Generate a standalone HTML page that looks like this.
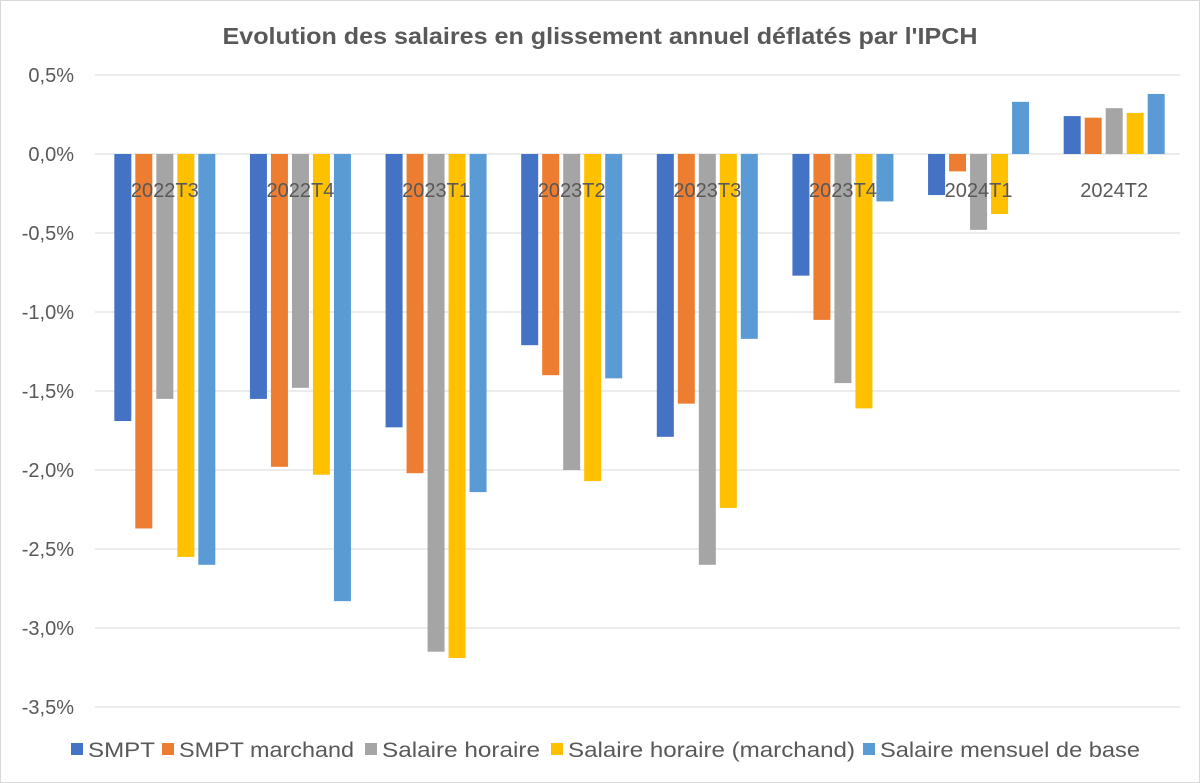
<!DOCTYPE html>
<html><head><meta charset="utf-8"><style>
body{margin:0;background:#fff;font-family:"Liberation Sans",Arial,sans-serif;}
svg{display:block;}
</style></head><body>
<svg id="chart" width="1200" height="783" viewBox="0 0 1200 783">
<rect x="0.5" y="0.5" width="1199" height="782" fill="#fff" stroke="#d9d9d9"/>
<text x="600" y="44" text-anchor="middle" font-size="23" font-weight="bold" fill="#595959" textLength="755" lengthAdjust="spacingAndGlyphs">Evolution des salaires en glissement annuel déflatés par l'IPCH</text>
<g id="grid"></g><g id="bars"></g><g id="labels"></g><g id="legend"></g>
</svg>
<script>
const categories=["2022T3","2022T4","2023T1","2023T2","2023T3","2023T4","2024T1","2024T2"];
const seriesNames=["SMPT","SMPT marchand","Salaire horaire","Salaire horaire (marchand)","Salaire mensuel de base"];
const smpt=[-1.69,-1.55,-1.73,-1.21,-1.79,-0.77,-0.26,0.24];
const smptMarchand=[-2.37,-1.98,-2.02,-1.40,-1.58,-1.05,-0.11,0.23];
const salaireHoraire=[-1.55,-1.48,-3.15,-2.00,-2.60,-1.45,-0.48,0.29];
const salaireHoraireMarchand=[-2.55,-2.03,-3.19,-2.07,-2.24,-1.61,-0.38,0.26];
const salaireMensuel=[-2.60,-2.83,-2.14,-1.42,-1.17,-0.30,0.33,0.38];
const yTicks=[0.5,0,-0.5,-1,-1.5,-2,-2.5,-3,-3.5];
const series=[smpt,smptMarchand,salaireHoraire,salaireHoraireMarchand,salaireMensuel];
const colors=["#4472C4","#ED7D31","#A5A5A5","#FFC000","#5B9BD5"];
const NS="http://www.w3.org/2000/svg";
const x0=97,x1=1182;
const y=v=>154-(v)*158;
const band=(x1-x0)/categories.length;
const xc=i=>x0+band*(i+0.5);
function mk(t,a,p){const e=document.createElementNS(NS,t);for(const k in a)e.setAttribute(k,a[k]);p.appendChild(e);return e;}
const grid=document.getElementById('grid');
yTicks.forEach(v=>{
 const l=mk('line',{x1:95,x2:1180,y1:y(v),y2:y(v),stroke:'#d9d9d9','stroke-width':1},grid);
 
 
 const t=mk('text',{x:74,y:y(v)+7,'text-anchor':'end','font-size':20,fill:'#595959'},grid);
 t.textContent=v.toFixed(1).replace('.',',')+'%';
 
 
});
const bars=document.getElementById('bars');
const bw=17,step=21;
series.forEach((s,si)=>{
 s.forEach((v,i)=>{
  const bx=xc(i)-2.5*step+si*step+2;
  const r=mk('rect',{x:bx,y:Math.min(y(v),y(0)),width:bw,height:Math.abs(y(v)-y(0)),fill:colors[si]},bars);
  
  
 });
});
const labels=document.getElementById('labels');
categories.forEach((c,i)=>{
 const t=mk('text',{x:xc(i),y:197,'text-anchor':'middle','font-size':20,fill:'#595959'},labels);
 t.textContent=c;
 
 
});
const lg=document.getElementById('legend');
const lx=[71,162,365,551,863];
const lw=[67,175,158,287,260];
seriesNames.forEach((n,i)=>{
 const r=mk('rect',{x:lx[i],y:743,width:12,height:12,fill:colors[i]},lg);
 
 
 const t=mk('text',{x:lx[i]+17,y:757,'font-size':21,fill:'#595959',textLength:lw[i],lengthAdjust:'spacingAndGlyphs'},lg);
 t.textContent=n;
 
 
});
</script>
</body></html>
